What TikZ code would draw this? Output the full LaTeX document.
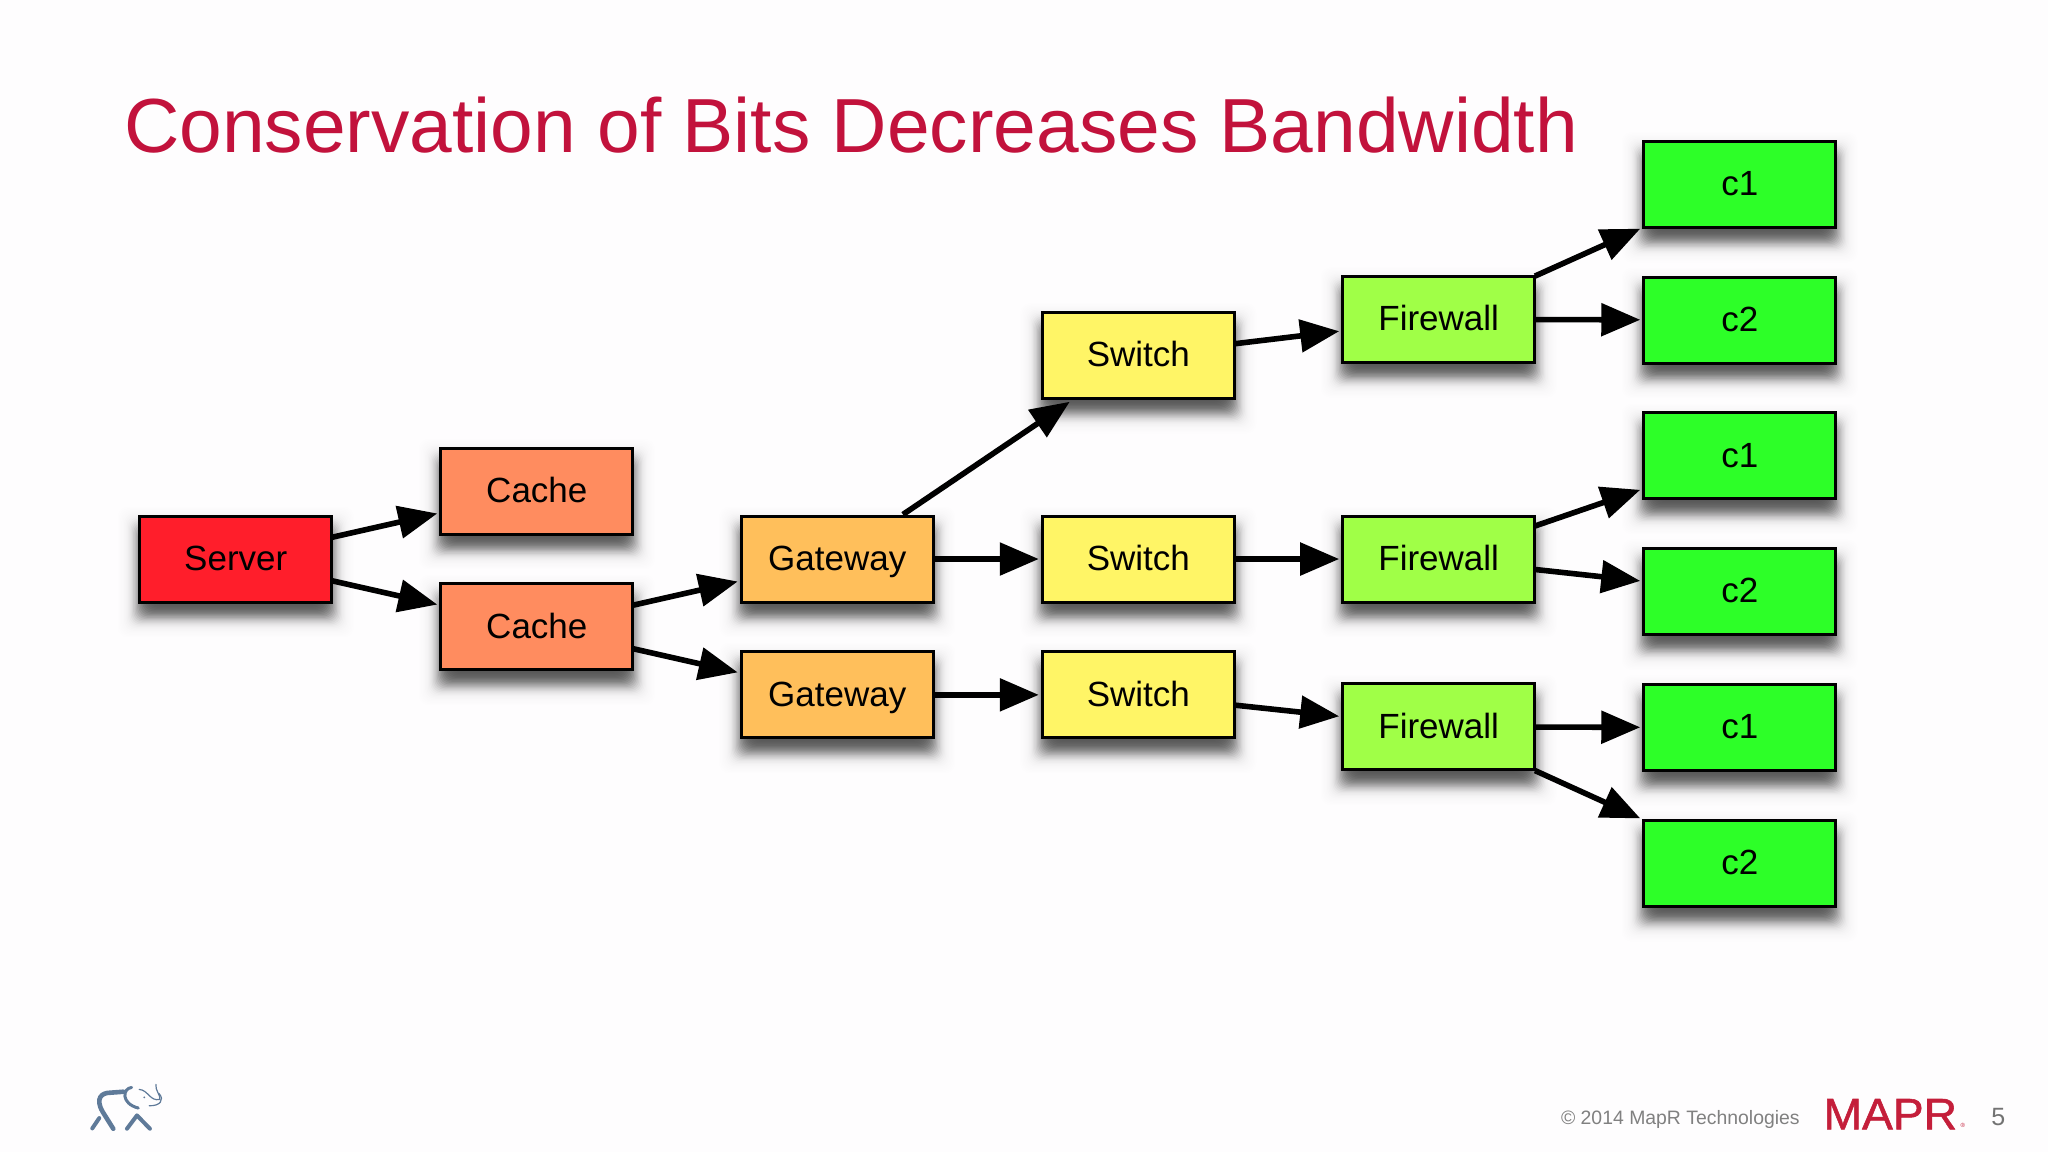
\documentclass[tikz,border=0pt]{standalone}
\usepackage{fontspec}
\setmainfont{Liberation Sans}
\newfontfamily\logofont[FakeBold=1.2]{Liberation Sans}
\usetikzlibrary{arrows.meta}
\definecolor{bgc}{HTML}{FEFDFE}
\definecolor{titlec}{HTML}{C2123C}
\definecolor{serverc}{HTML}{FF1E2B}
\definecolor{cachec}{HTML}{FF8C5F}
\definecolor{gatec}{HTML}{FFBF5B}
\definecolor{switchc}{HTML}{FFF566}
\definecolor{firec}{HTML}{A0FF47}
\definecolor{clientc}{HTML}{2DFF28}
\definecolor{footc}{HTML}{808080}
\definecolor{elec}{HTML}{5F7A99}
\definecolor{logoc}{HTML}{C41E3A}
\tikzset{
  netbox/.style={draw=black,line width=3pt,minimum width=192pt,minimum height=86pt,inner sep=0pt,outer sep=3.5pt,text height=26pt,text depth=3.6pt,text=black,font=\fontsize{35}{40}\selectfont},
  link/.style={line width=5.6pt,shorten <=-3.5pt,-{Triangle[length=39pt,width=32pt]}},
  softshade/.style={fill=black,rounded corners=10pt},
  elestroke/.style={draw=elec,line cap=round,line join=round}
}
\newcommand{\flowbox}[5]{%
  \foreach \r in {17,16,...,-11}{%
    \pgfmathsetmacro{\op}{0.075*exp(-(\r/7)*(\r/7))+0.003}
    \fill[softshade,fill opacity=\op] ({#2-73.5-\r},{#3-33+10-\r}) rectangle ({#2+73.5+\r},{#3+33+10+\r});
  }
  \node[netbox,fill=#4] (#1) at (#2,#3) {#5};
}
\begin{document}
\begin{tikzpicture}[x=1.3061pt,y=-1.3061pt]
\useasboundingbox (0,0) rectangle (1568,882);
\fill[bgc] (0,0) rectangle (1568,882);
\node[anchor=west,text=titlec,font=\fontsize{76.7}{80}\selectfont,inner sep=0pt] (title) at (95,96) {Conservation of Bits Decreases Bandwidth};
\flowbox{server}{180.5}{428}{serverc}{Server}
\flowbox{cacheA}{411}{376}{cachec}{Cache}
\flowbox{cacheB}{411}{480}{cachec}{Cache}
\flowbox{gateA}{641}{428}{gatec}{Gateway}
\flowbox{gateB}{641}{532}{gatec}{Gateway}
\flowbox{switchA}{871.5}{272}{switchc}{Switch}
\flowbox{switchB}{871.5}{428}{switchc}{Switch}
\flowbox{switchC}{871.5}{532}{switchc}{Switch}
\flowbox{fireA}{1101.5}{244.5}{firec}{Firewall}
\flowbox{fireB}{1101.5}{428}{firec}{Firewall}
\flowbox{fireC}{1101.5}{556.5}{firec}{Firewall}
\flowbox{cA}{1332}{141}{clientc}{c1}
\flowbox{cB}{1332}{245}{clientc}{c2}
\flowbox{cC}{1332}{349}{clientc}{c1}
\flowbox{cD}{1332}{453}{clientc}{c2}
\flowbox{cE}{1332}{557}{clientc}{c1}
\flowbox{cF}{1332}{661}{clientc}{c2}
\draw[link] (server) -- (cacheA);
\draw[link] (server) -- (cacheB);
\draw[link] (cacheB) -- (gateA);
\draw[link] (cacheB) -- (gateB);
\draw[link] (gateA) -- (switchA);
\draw[link] (gateA) -- (switchB);
\draw[link] (gateB) -- (switchC);
\draw[link] (switchA) -- (fireA);
\draw[link] (switchB) -- (fireB);
\draw[link] (switchC) -- (fireC);
\draw[link] (fireA) -- (cA);
\draw[link] (fireA) -- (cB);
\draw[link] (fireB) -- (cC);
\draw[link] (fireB) -- (cD);
\draw[link] (fireC) -- (cE);
\draw[link] (fireC) -- (cF);
% footer
\node[anchor=west,text=footc,font=\fontsize{19.4}{22}\selectfont,inner sep=0pt] (copy) at (1195,857) {© 2014 MapR Technologies};
\node[text=footc!90!black,font=\fontsize{25}{28}\selectfont,inner sep=0pt] (page) at (1530,855) {5};
\node[anchor=west,text=logoc,font=\logofont\fontsize{44}{48}\selectfont,inner sep=0pt,xscale=1.05] (logo) at (1396,853) {MAPR};
\node[anchor=west,text=logoc,font=\fontsize{6}{7}\selectfont,inner sep=0pt] (reg) at (1501,862) {®};
% elephant mark
\begin{scope}[shift={(45.9,796.3)},x=0.3333pt,y=-0.3333pt]
\draw[elestroke,line width=4.6pt] (160,266) -- (128,215) .. controls (105,175) and (125,158) .. (150,158) -- (190,155);
\draw[elestroke,line width=4pt] (97,265) -- (118,234);
\draw[elestroke,line width=4pt] (201,266) -- (231,226) -- (270,266);
\draw[elestroke,line width=3pt] (215,142) .. controls (188,145) and (182,190) .. (235,204);
\draw[elestroke,line width=1.2pt] (238,148) .. controls (265,150) and (270,185) .. (300,178) .. controls (302,165) and (285,150) .. (288,133);
\draw[elestroke,line width=1.2pt] (297,160) .. controls (315,180) and (300,198) .. (268,197);
\fill[elec] (253,172) circle (3);
\end{scope}
\end{tikzpicture}
\end{document}
